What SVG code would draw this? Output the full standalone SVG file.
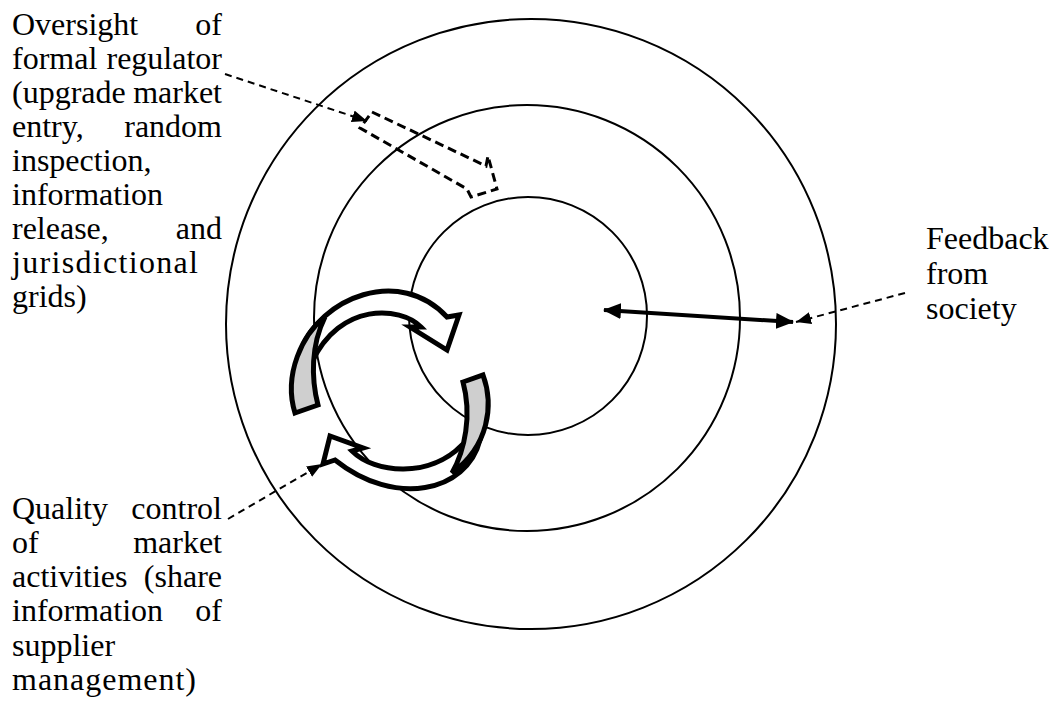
<svg xmlns="http://www.w3.org/2000/svg" width="1057" height="707" viewBox="0 0 1057 707">
<style>
text{font-size:32px;fill:#000}
.ring{fill:none;stroke:#000;stroke-width:2}
.band{fill:#fff;stroke:#000;stroke-width:5;stroke-linejoin:miter}
.shade{fill:#cfcfcf;stroke:#000;stroke-width:5;stroke-linejoin:miter}
.dash{fill:none;stroke:#000;stroke-width:2;stroke-dasharray:7 5}
.e{text-anchor:end}
</style>
<defs>
<marker id="dh" markerUnits="userSpaceOnUse" markerWidth="15" markerHeight="12" refX="15" refY="6" orient="auto">
<path d="M0,0 L15,6 L0,12 Z" fill="#000"/>
</marker>
<marker id="fh" markerUnits="userSpaceOnUse" markerWidth="18" markerHeight="16" refX="17" refY="8" orient="auto-start-reverse">
<path d="M0,0 L18,8 L0,16 Z" fill="#000"/>
</marker>
</defs>

<g id="outer-ring"><circle class="ring" cx="531" cy="324" r="305"/></g>
<g id="middle-ring"><circle class="ring" cx="527" cy="318" r="213"/></g>
<g id="inner-ring"><circle class="ring" cx="528" cy="316" r="119"/></g>

<g id="cycle-arrow-top">
<path class="band" d="M300,352 C320,297 400,266 447,317 L459,315 L447,350 L410,327 L421,327 C400,306 340,302 312,362 Z"/>
<path class="shade" d="M295,413 L318,405 C311,378 311,345 325,317 C303,334 283,374 295,413 Z"/>
</g>
<g id="cycle-arrow-bottom">
<path class="band" d="M480,440 C467,492 395,508 335,460 L323,464 L330,436 L363,448 L352,451 C375,474 430,478 462,445 Z"/>
<path class="shade" d="M463,382 L483,375 C494,405 489,446 452,473 C465,450 472,415 463,382 Z"/>
</g>

<g id="regulator-block-arrow">
<path d="M372,112 L486,166 L488,156 L497,189 L471,197 L467,189 L360,128 Z" fill="none" stroke="#000" stroke-width="3" stroke-dasharray="9 5" stroke-linejoin="miter"/>
</g>

<g id="connectors">
<line class="dash" x1="225" y1="74" x2="367" y2="121" marker-end="url(#dh)"/>
<line class="dash" x1="228" y1="519" x2="322" y2="464" marker-end="url(#dh)"/>
<line class="dash" x1="905" y1="293" x2="796" y2="322" marker-end="url(#dh)"/>
<line x1="604" y1="310" x2="793" y2="322" stroke="#000" stroke-width="4" marker-start="url(#fh)" marker-end="url(#fh)"/>
</g>

<g id="label-regulator" font-family="'Liberation Serif', 'DejaVu Serif', serif">
<text x="12" y="35">Oversight</text><text class="e" x="222" y="35">of</text>
<text x="12" y="69">formal</text><text class="e" x="222" y="69">regulator</text>
<text x="12" y="103">(upgrade</text><text class="e" x="222" y="103">market</text>
<text x="12" y="137">entry,</text><text class="e" x="222" y="137">random</text>
<text x="12" y="171">inspection,</text>
<text x="12" y="205">information</text>
<text x="12" y="239">release,</text><text class="e" x="222" y="239">and</text>
<text x="12" y="273" textLength="186" lengthAdjust="spacing">jurisdictional</text>
<text x="12" y="307">grids)</text>
</g>

<g id="label-quality" font-family="'Liberation Serif', 'DejaVu Serif', serif">
<text x="12" y="519">Quality</text><text class="e" x="222" y="519">control</text>
<text x="12" y="553">of</text><text class="e" x="222" y="553">market</text>
<text x="12" y="587">activities</text><text class="e" x="222" y="587">(share</text>
<text x="12" y="621">information</text><text class="e" x="222" y="621">of</text>
<text x="12" y="656">supplier</text>
<text x="12" y="690" textLength="184" lengthAdjust="spacing">management)</text>
</g>

<g id="label-feedback" font-family="'Liberation Serif', 'DejaVu Serif', serif">
<text x="926" y="249">Feedback</text>
<text x="926" y="284">from</text>
<text x="926" y="319">society</text>
</g>
</svg>
